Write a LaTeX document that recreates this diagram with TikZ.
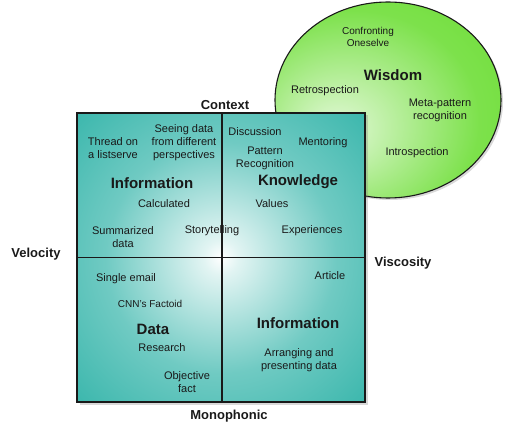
\documentclass[tikz,border=0pt]{standalone}
\usepackage{fontspec}
\setmainfont{Liberation Sans}
\usetikzlibrary{shapes.geometric,shadows}

\definecolor{tealdark}{RGB}{8,164,151}
\definecolor{greenedge}{RGB}{102,220,44}
\definecolor{inkgray}{RGB}{25,25,25}

\pgfdeclareradialshading{tealglow}{\pgfpointorigin}{color(0bp)=(white); color(3bp)=(white!88!tealdark); color(20bp)=(tealdark!58); color(42bp)=(tealdark!88); color(71bp)=(tealdark)}
\pgfdeclareradialshading{greenglow}{\pgfpoint{-12bp}{-8bp}}{color(0bp)=(white); color(5bp)=(white!70!greenedge); color(28bp)=(greenedge!85); color(50bp)=(greenedge); color(80bp)=(greenedge)}

\begin{document}
\begin{tikzpicture}[x=1pt, y=-1pt,
    txt/.style={align=center, inner sep=0pt, text=inkgray, font=\fontsize{11}{13}\selectfont},
    small/.style={txt, font=\fontsize{10}{12.5}\selectfont},
    head/.style={txt, font=\bfseries\fontsize{15}{18}\selectfont},
    axis/.style={txt, font=\bfseries\fontsize{13}{15}\selectfont},
    frame/.style={draw=black!90, line width=1.1pt}]

    \useasboundingbox (0,0) rectangle (506,430);

    % wisdom bubble
    \node[shape=ellipse, frame, shading=greenglow, minimum width=226pt, minimum height=196pt,
        drop shadow={shadow xshift=2pt, shadow yshift=-2pt, opacity=0.3}] (Bubble) at (388,100) {};

    % the four quadrants
    \node[shape=rectangle, frame, shading=tealglow, minimum width=288pt, minimum height=289pt,
        drop shadow={shadow xshift=2.5pt, shadow yshift=-2.5pt, opacity=0.3}] (Grid) at (221,257.5) {};
    \draw[frame] (222,113) -- (222,402);
    \draw[frame] (Grid.west) -- (Grid.east);

    % axes
    \node[axis] (Context) at (225,105) {Context};
    \node[axis] (Velocity) at (36,254) {Velocity};
    \node[axis] (Viscosity) at (403,263) {Viscosity};
    \node[axis] (Mono) at (229,416) {Monophonic};

    % wisdom
    \node[small] (Confront) at (368,37) {Confronting \\ Oneselve};
    \node[head] (Wisdom) at (393,75) {Wisdom};
    \node[txt] (Retro) at (325,91) {Retrospection};
    \node[txt] (MetaPat) at (440,110) {Meta-pattern \\ recognition};
    \node[txt] (Intro) at (417,153) {Introspection};

    % information (top left)
    \node[txt] (Thread) at (113,148) {Thread on \\ a listserve};
    \node[txt] (Seeing) at (184,143) {Seeing data \\ from different \\ perspectives};
    \node[head] (InfoTop) at (152,183) {Information};
    \node[txt] (Calc) at (164,204) {Calculated};
    \node[txt] (Summ) at (123,237) {Summarized \\ data};
    \node[txt] (Story) at (212,231) {Storytelling};

    % knowledge
    \node[txt] (Discuss) at (255,132) {Discussion};
    \node[txt] (Mentor) at (323,143) {Mentoring};
    \node[txt] (PatRec) at (265,158) {Pattern \\ Recognition};
    \node[head] (Knowledge) at (298,182) {Knowledge};
    \node[txt] (Values) at (272,204) {Values};
    \node[txt] (Exper) at (312,231) {Experiences};

    % data
    \node[txt] (Email) at (126,279) {Single email};
    \node[small] (CNN) at (150,304) {CNN's Factoid};
    \node[head] (Data) at (153,329) {Data};
    \node[txt] (Research) at (162,348) {Research};
    \node[txt] (Objective) at (187,382) {Objective \\ fact};

    % information (bottom right)
    \node[txt] (Article) at (330,276) {Article};
    \node[head] (InfoBot) at (298,323) {Information};
    \node[txt] (Arrange) at (299,360) {Arranging and \\ presenting data};

\end{tikzpicture}
\end{document}
